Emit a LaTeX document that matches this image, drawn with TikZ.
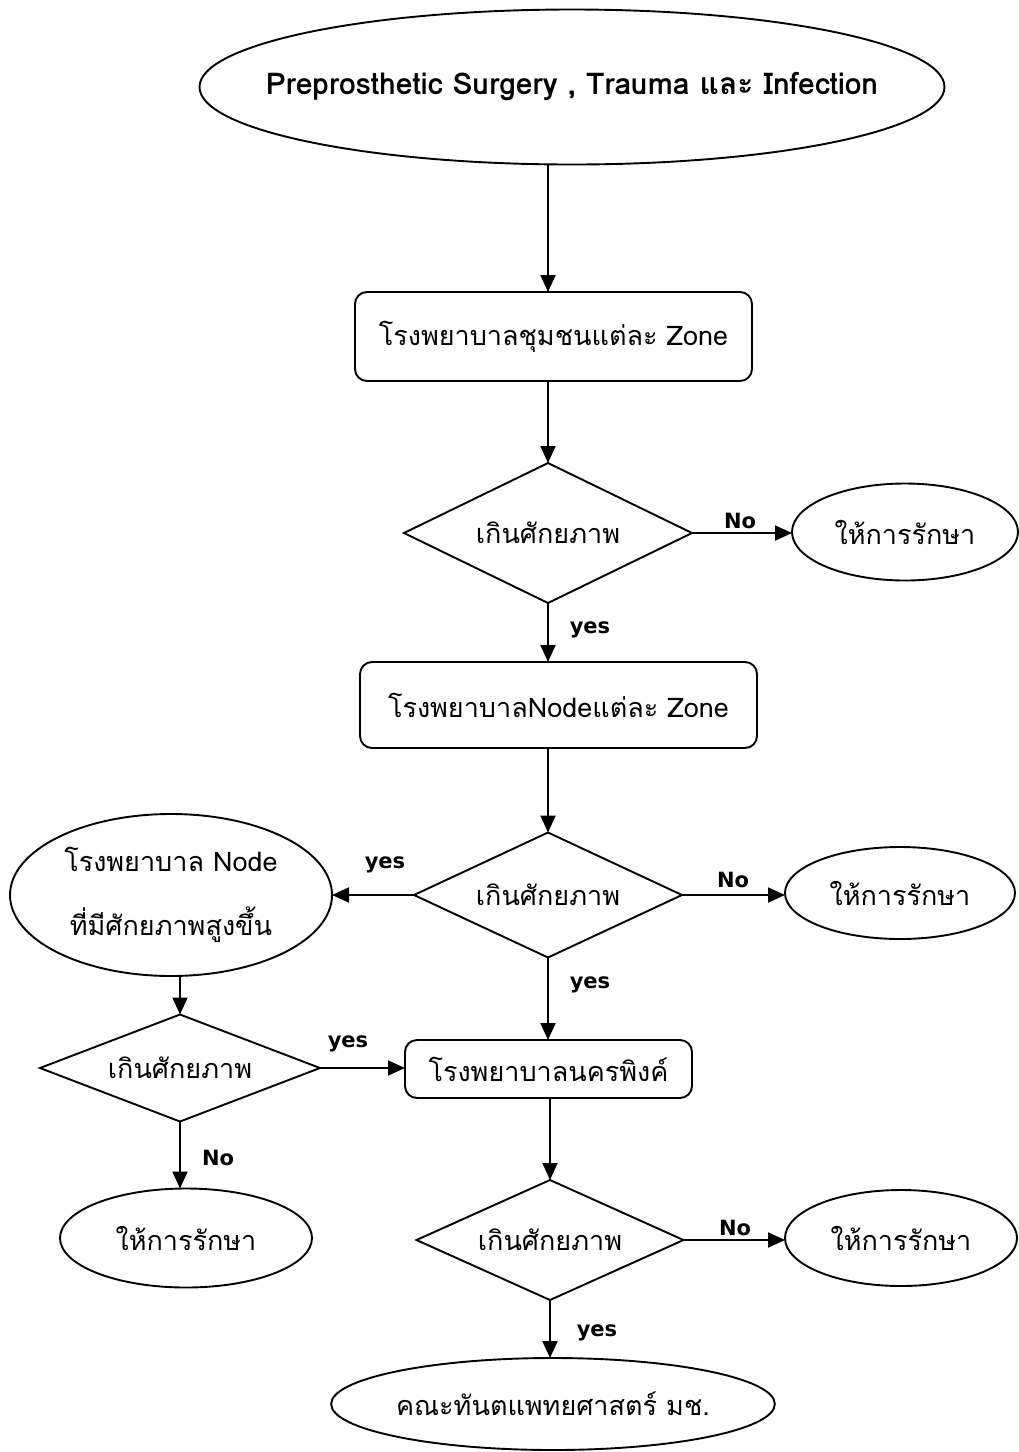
\documentclass[tikz,border=0pt]{standalone}
\usepackage{fontspec}
\setmainfont[Script=Thai]{Loma}
\newfontfamily\lbl{DejaVu Sans}
\usetikzlibrary{shapes.geometric,arrows.meta}
\begin{document}
\begin{tikzpicture}[x=1pt,y=-1pt,
  line width=1.9pt,
  every node/.style={inner sep=0pt,outer sep=0pt},
  txt/.style={font=\fontsize{27}{38}\selectfont},
  oval/.style={draw,ellipse,txt},
  boxnode/.style={draw,rectangle,rounded corners=12pt,txt},
  dia/.style={draw,diamond,aspect=2.1,txt},
  lab/.style={font=\lbl\bfseries\fontsize{21}{24}\selectfont},
  arr/.style={-{Triangle[length=17pt,width=15pt]}}
]
\useasboundingbox (0,0) rectangle (1019,1452);

\node[oval,inner xsep=-50pt,minimum width=745,minimum height=155,font=\bfseries\fontsize{30}{36}\selectfont] (top) at (572,87) {Preprosthetic Surgery , Trauma และ Infection};
\node[boxnode,minimum width=397,minimum height=89] (b1) at (553.5,336.5) {โรงพยาบาลชุมชนแต่ละ Zone};
\node[dia,minimum width=288,minimum height=140] (d1) at (548,533) {เกินศักยภาพ};
\node[oval,minimum width=226,minimum height=97] (e1) at (905,532) {ให้การรักษา};
\node[boxnode,minimum width=397,minimum height=86] (b2) at (558.5,705) {โรงพยาบาลNodeแต่ละ Zone};
\node[dia,minimum width=268,minimum height=125] (d2) at (548,895) {เกินศักยภาพ};
\node[oval,minimum width=230,minimum height=92] (e2) at (900,893) {ให้การรักษา};
\node[oval,minimum width=322,minimum height=162,align=center,font=\fontsize{27}{64}\selectfont] (eL) at (171,895) {โรงพยาบาล Node\\ที่มีศักยภาพสูงขึ้น};
\node[dia,minimum width=280,minimum height=107] (d3) at (180,1068) {เกินศักยภาพ};
\node[boxnode,minimum width=287,minimum height=58] (b3) at (548.5,1069) {โรงพยาบาลนครพิงค์};
\node[oval,minimum width=252,minimum height=99] (eB) at (186,1238) {ให้การรักษา};
\node[dia,minimum width=267,minimum height=120] (d4) at (550,1240) {เกินศักยภาพ};
\node[oval,minimum width=232,minimum height=96] (e4) at (901,1238) {ให้การรักษา};
\node[oval,minimum width=370,minimum height=92] (eF) at (553,1404) {คณะทันตแพทยศาสตร์ มช.};

\draw[arr] (top.south -| d1.north) -- (b1.north -| d1.north);
\draw[arr] (b1.south -| d1.north) -- (d1.north);
\draw[arr] (d1.east) -- (d1.east -| e1.west);
\draw[arr] (d1.south) -- (b2.north -| d1.south);
\draw[arr] (b2.south -| d2.north) -- (d2.north);
\draw[arr] (d2.east) -- (d2.east -| e2.west);
\draw[arr] (d2.west) -- (d2.west -| eL.east);
\draw[arr] (d2.south) -- (b3.north -| d2.south);
\draw[arr] (eL.south -| d3.north) -- (d3.north);
\draw[arr] (d3.east) -- (d3.east -| b3.west);
\draw[arr] (d3.south) -- (eB.north -| d3.south);
\draw[arr] (b3.south -| d4.north) -- (d4.north);
\draw[arr] (d4.east) -- (d4.east -| e4.west);
\draw[arr] (d4.south) -- (eF.north -| d4.south);

\node[lab] (l1) at (740,521) {No};
\node[lab] (l2) at (590,630) {yes};
\node[lab] (l3) at (385,865) {yes};
\node[lab] (l4) at (733,880) {No};
\node[lab] (l5) at (590,985) {yes};
\node[lab] (l6) at (348,1044) {yes};
\node[lab] (l7) at (218,1158) {No};
\node[lab] (l8) at (735,1228) {No};
\node[lab] (l9) at (597,1333) {yes};
\end{tikzpicture}
\end{document}
